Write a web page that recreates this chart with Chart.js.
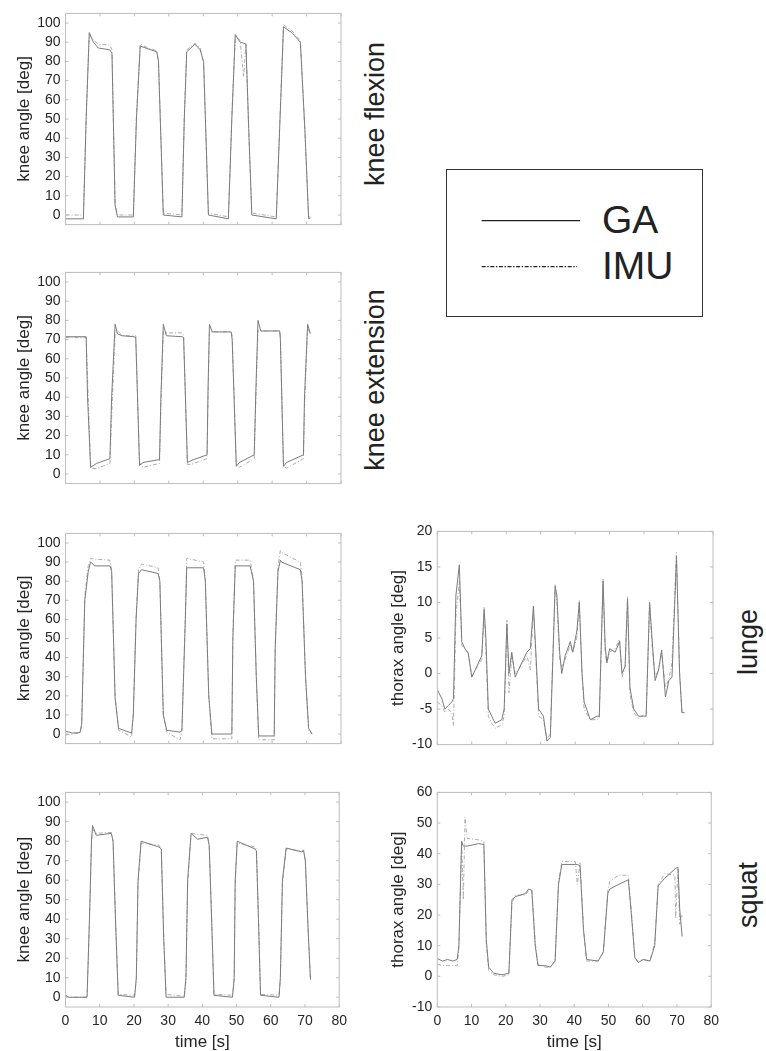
<!DOCTYPE html>
<html>
<head>
<meta charset="utf-8">
<script src="https://cdn.jsdelivr.net/npm/chart.js@4.4.0/dist/chart.umd.min.js"></script>
<style>
  html, body { margin: 0; padding: 0; background: #fff; }
  #fig { position: relative; width: 766px; height: 1051px; overflow: hidden; font-family: "Liberation Sans", Arial, sans-serif; color: #222; }
  #fig canvas { position: absolute; }
  .rowlab { position: absolute; font-size: 27px; line-height: 1; white-space: nowrap; transform: translate(-50%, -50%) rotate(-90deg); }
  #legend { position: absolute; left: 446px; top: 169px; width: 255px; height: 146px; border: 1.5px solid #333; }
  #legline { position: absolute; left: 470px; top: 210px; }
  .legtxt { position: absolute; left: 602px; font-size: 39px; line-height: 1; }
</style>
</head>
<body>
<div id="fig">
  <canvas id="flex" width="353" height="238" style="left:0px;top:0px"></canvas>
  <canvas id="ext" width="353" height="238" style="left:0px;top:259px"></canvas>
  <canvas id="lungeKnee" width="353" height="237" style="left:0px;top:520px"></canvas>
  <canvas id="squatKnee" width="353" height="275" style="left:0px;top:779px"></canvas>
  <canvas id="lungeThorax" width="345" height="240" style="left:380px;top:518px"></canvas>
  <canvas id="squatThorax" width="345" height="275" style="left:380px;top:779px"></canvas>

  <div class="rowlab" style="left:375px;top:114px">knee flexion</div>
  <div class="rowlab" style="left:375px;top:380px">knee extension</div>
  <div class="rowlab" style="left:748px;top:642px">lunge</div>
  <div class="rowlab" style="left:748px;top:895px">squat</div>

  <div id="legend"></div>
  <svg id="legline" width="120" height="70">
    <line x1="11.7" y1="10.7" x2="110" y2="10.7" stroke="#222" stroke-width="1.3"/>
    <line x1="11.7" y1="56.7" x2="107" y2="56.7" stroke="#222" stroke-width="1.3" stroke-dasharray="4 1.6 1.4 1.6"/>
  </svg>
  <div class="legtxt" style="top:200px">GA</div>
  <div class="legtxt" style="top:246px">IMU</div>
</div>

<script>
// tick values
const timeTicks = [0, 10, 20, 30, 40, 50, 60, 70, 80];
const kneeTicks = [0, 10, 20, 30, 40, 50, 60, 70, 80, 90, 100];
const lungeThoraxTicks = [-10, -5, 0, 5, 10, 15, 20];
const squatThoraxTicks = [-10, 0, 10, 20, 30, 40, 50, 60];

// knee flexion
const flexTime = [0, 5.2, 6.0, 6.9, 8.1, 9.5, 12.9, 13.5, 14.4, 15.1, 19.7, 20.6, 21.7, 24.0, 26.5, 27.0, 28.4, 33.8, 34.5, 35.2, 37.6, 39.1, 40.1, 41.5, 47.3, 48.3, 49.3, 50.7, 51.7, 52.4, 53.2, 54.1, 61.2, 62.3, 63.3, 65.7, 68.2, 69.5, 70.6, 71.1];
const flexGA = [-2, -2, 50, 95, 90, 87, 86, 84, 5, -1, -1, 50, 88, 86.5, 85, 80, 0, -1, 50, 85, 89, 86, 80, 0, -2, 50, 94, 90, 89.5, 89, 45, 0, -2, 50, 98, 95, 90, 45, -2, -1.5];
const flexIMU = [0, 0, 52, 94, 91, 89, 88.5, 86, 6, 0, 0, 52, 89, 87, 85.5, 80, 1, 0, 52, 86, 89.5, 87, 79, 1, -1, 52, 93, 91, 72, 89, 44, 1, -1, 52, 99, 96, 91, 44, -1, -1];

// knee extension
const extTime = [0, 6.0, 6.4, 7.3, 9.0, 12.9, 13.4, 14.4, 15.1, 16.5, 19.9, 20.4, 21.5, 22.5, 27.3, 27.7, 28.4, 29.3, 33.9, 34.3, 35.4, 36.5, 41.1, 41.4, 41.8, 42.6, 48.1, 48.4, 49.6, 50.5, 54.8, 55.3, 55.9, 56.7, 62.2, 62.4, 63.3, 64.2, 69.1, 69.4, 70.3, 71.1];
const extGA = [71.5, 71.5, 40, 3.5, 5.5, 8, 40, 78, 73, 72, 71.5, 71, 4.5, 6, 7.5, 40, 78, 72, 71.5, 71, 6, 7, 10, 45, 78, 74, 74, 70, 4, 6, 10, 45, 80, 74.5, 74.5, 70, 4, 6, 10, 40, 78, 73];
const extIMU = [71, 71, 50, 3, 2.8, 5.5, 30, 72, 74.5, 72, 72, 72, 6, 3.5, 5.5, 35, 74, 73.5, 73.5, 72, 5, 5, 8, 40, 74, 74, 74, 72, 5, 3.5, 8, 40, 75, 74.5, 74.5, 72, 4, 3, 8, 35, 76, 73];

// lunge, knee
const lungeKneeTime = [0, 2.0, 4.2, 4.7, 5.6, 6.6, 7.3, 8.5, 12.9, 13.4, 14.4, 15.4, 19.2, 19.7, 20.5, 21.2, 22.1, 26.9, 27.4, 28.4, 29.4, 33.3, 33.8, 34.8, 35.2, 40.1, 40.6, 41.6, 42.5, 48.3, 48.6, 49.3, 53.6, 54.6, 55.4, 56.1, 60.6, 60.9, 61.7, 62.4, 62.7, 68.2, 68.7, 69.7, 70.6, 71.6];
const lungeKneeGA = [1.5, 0.5, 0.8, 5, 70, 85, 90, 88, 88, 85, 19, 3, 0.5, 10, 60, 84, 86, 84, 80, 10, 2, 1, 2, 60, 87, 87, 80, 20, 0, 0, 50, 88, 88, 80, 30, -1, -1, 45, 85, 91, 90, 86, 80, 30, 3, 0];
const lungeKneeIMU = [-0.5, 0, 0.5, 5, 72, 88, 92, 91.5, 91, 86, 20, 2, -1.5, 12, 62, 86, 89, 87, 80, 10, 1, -3, 2, 62, 92, 90, 81, 20, -2.5, -2.5, 52, 91, 91, 81, 30, -3, -3, 47, 88, 96, 95, 90, 82, 30, 2, 0];

// squat, knee
const squatKneeTime = [0, 1.0, 6.3, 7.0, 7.6, 7.9, 9.0, 13.4, 13.9, 14.6, 15.4, 20.2, 20.7, 21.2, 22.1, 27.3, 28.0, 28.7, 29.4, 34.7, 35.2, 35.7, 36.7, 38.6, 41.5, 42.0, 42.7, 43.4, 48.8, 49.3, 49.6, 50.2, 55.4, 55.8, 56.4, 57.0, 62.4, 62.8, 63.4, 64.5, 69.1, 69.6, 70.1, 70.9, 71.6];
const squatKneeGA = [1, 0, 0, 40, 80, 88, 83, 84, 80, 40, 1, 0, 10, 60, 80, 77, 76, 30, 0, 0, 10, 60, 84, 81, 82, 78, 40, 1, 0, 10, 60, 80, 76, 75, 40, 1, 0, 10, 60, 76.5, 74.5, 75, 70, 35, 9];
const squatKneeIMU = [1, 0, 0, 38, 80, 86, 84, 84.5, 80, 42, 1.5, 1, 9, 58, 79, 78, 76, 32, 1.5, 0.5, 8, 58, 84, 83.5, 83, 78, 42, 1.5, 1, 8, 58, 79, 77, 76, 42, 1.5, 1, 9, 58, 76, 75, 75.5, 70, 35, 9];

// lunge, thorax
const lungeThoraxTime = [0, 1.3, 2.2, 3.2, 4.2, 4.7, 5.4, 6.4, 7.1, 8.0, 9.0, 10.0, 11.0, 12.9, 13.6, 14.1, 14.8, 15.8, 16.8, 18.7, 19.4, 20.2, 20.8, 21.6, 22.6, 23.5, 26.0, 27.0, 27.9, 28.7, 29.4, 30.8, 31.8, 32.8, 33.2, 34.2, 34.7, 35.5, 36.1, 37.1, 38.6, 39.3, 40.5, 41.2, 42.0, 42.6, 44.4, 46.3, 47.0, 48.1, 48.7, 49.2, 50.0, 51.6, 52.9, 53.6, 54.5, 55.2, 55.9, 57.0, 58.4, 59.9, 60.6, 61.6, 62.3, 63.2, 64.2, 65.1, 66.2, 67.2, 68.1, 69.4, 70.3, 71.0, 71.7];
const lungeThoraxGA = [-2.3, -3.5, -5, -4.5, -4, -3.5, 11, 15.3, 4.5, 3.5, 2.8, -0.5, 0.5, 2.5, 9, 5, -5, -6, -7, -6.5, -5, 7, 0, 3, -0.5, 0.5, 3, 3.5, 9.5, 2, -5, -6, -9.5, -9, -3, 12.3, 11, 3, 0, 2.5, 4.5, 3, 6, 10, 0, -4, -6.5, -6, -6, 13, 4, 1.5, 3.5, 3, 4.5, 0, 1, 10.5, -2, -5, -6, -6, -6, 10, 5, -1, 0.5, 3.3, -3.3, -1, -0.5, 16.5, 0, -5.5, -5.5];
const lungeThoraxIMU = [-4, -4.5, -5.5, -5, -5.5, -7.3, 8, 13, 4, 3.5, 3, -0.5, 0.5, 2, 9.3, 3, -6, -7, -7.7, -7.2, -6, 7.5, -2.7, 2.5, 0, 0.5, 2.5, 0.5, 9, 1, -6, -6.5, -9.2, -8.5, -2, 12.5, 10, 2, 1, 2, 4, 3, 5, 10.3, 0, -5, -6.5, -6.5, -6.3, 13.3, 3, 1.5, 3, 3.5, 4.8, -0.5, 1, 10.8, -3, -5.5, -6.3, -5.8, -6, 10, 4, -0.5, 0.5, 3, -2, -0.8, 1.5, 17, 0.5, -5.5, -5.5];

// squat, thorax
const squatThoraxTime = [0, 1.5, 3.0, 4.5, 5.8, 6.3, 7.1, 7.6, 8.1, 8.7, 12.1, 13.6, 14.3, 15.0, 16.5, 18.9, 20.9, 21.8, 22.8, 25.7, 26.7, 27.6, 28.6, 29.4, 31.5, 33.0, 34.4, 35.4, 36.4, 40.3, 40.9, 41.7, 42.7, 43.6, 47.0, 48.5, 49.8, 50.4, 53.0, 55.8, 56.7, 57.7, 58.7, 60.1, 62.1, 63.5, 64.5, 66.4, 69.4, 69.6, 70.3, 70.8, 71.5];
const squatThoraxGA = [5.8, 5, 5.5, 5, 5.5, 10, 44, 42.5, 42.5, 42.5, 43.3, 43, 12, 3, 1, 0.5, 1, 25, 26, 27, 28.5, 28, 10, 3.5, 3.5, 3, 5, 30, 36.5, 36.5, 36.5, 36, 15, 5.5, 5, 8, 27, 28.5, 30, 31.5, 20, 6, 4.5, 5.5, 5, 10, 29.5, 32, 35, 35.3, 35.5, 22, 13];
const squatThoraxIMU = [4, 3.5, 3.5, 3.5, 3.5, 9, 44, 25, 52, 45, 44.5, 44, 11, 2, 0.5, 0, 0.5, 24, 26.5, 26.5, 28, 28.5, 11, 4, 3, 3, 5, 31, 37.5, 37.5, 30, 37, 16, 5, 5, 8, 28, 31, 33, 33, 21, 6, 5, 5.5, 5, 11, 30, 33.5, 33, 19, 35, 17, 20];

Chart.defaults.font.family = '"Liberation Sans", Arial, sans-serif';

function pts(time, vals) {
  return time.map((t, i) => ({ x: t, y: vals[i] }));
}

// matlab-like box with inward tick marks
const frame = {
  id: "frame",
  afterDraw(chart) {
    const { ctx, chartArea: a, scales } = chart;
    ctx.save();
    ctx.strokeStyle = "#bdbdbd";
    ctx.lineWidth = 1;
    ctx.strokeRect(a.left, a.top, a.right - a.left, a.bottom - a.top);
    ctx.beginPath();
    scales.x.ticks.forEach(t => {
      const px = scales.x.getPixelForValue(t.value);
      ctx.moveTo(px, a.bottom); ctx.lineTo(px, a.bottom - 3);
      ctx.moveTo(px, a.top); ctx.lineTo(px, a.top + 3);
    });
    scales.y.ticks.forEach(t => {
      const py = scales.y.getPixelForValue(t.value);
      ctx.moveTo(a.left, py); ctx.lineTo(a.left + 3, py);
      ctx.moveTo(a.right, py); ctx.lineTo(a.right - 3, py);
    });
    ctx.stroke();
    ctx.restore();
  }
};

function panel(id, time, ga, imu, p) {
  new Chart(document.getElementById(id), {
    type: "line",
    data: {
      datasets: [
        { label: "GA", data: pts(time, ga), borderColor: "#7c7c7c", borderWidth: 1, pointRadius: 0, tension: 0 },
        { label: "IMU", data: pts(time, imu), borderColor: "#acacac", borderWidth: 1, borderDash: [4, 2, 1, 2], pointRadius: 0, tension: 0 }
      ]
    },
    options: {
      responsive: false,
      animation: false,
      events: [],
      layout: { padding: { top: 12, right: 12, bottom: p.time ? 0 : 10, left: 0 } },
      plugins: { legend: { display: false }, tooltip: { enabled: false } },
      scales: {
        x: {
          type: "linear", min: 0, max: 80,
          afterBuildTicks: s => { s.ticks = timeTicks.map(v => ({ value: v })); },
          afterFit: s => { s.height = p.time ? 47 : 0; },
          grid: { display: false, drawTicks: false },
          border: { display: false },
          ticks: { display: p.time, color: "#262626", font: { size: 14 }, padding: 6, autoSkip: false, maxRotation: 0 },
          title: { display: p.time, text: "time [s]", color: "#262626", font: { size: 17 }, padding: { top: 0, bottom: 1.8 } }
        },
        y: {
          min: p.min, max: p.max,
          afterBuildTicks: s => { s.ticks = p.ticks.map(v => ({ value: v })); },
          afterFit: s => { s.width = p.axisW; },
          grid: { display: false, drawTicks: false },
          border: { display: false },
          ticks: { color: "#262626", font: { size: 14 }, padding: 5, autoSkip: false },
          title: { display: true, text: p.title, color: "#262626", font: { size: 17 }, padding: { top: p.titlePad, bottom: 0 } }
        }
      }
    },
    plugins: [frame]
  });
}

const knee = { min: -5, max: 105, ticks: kneeTicks, axisW: 65.5, title: "knee angle [deg]", titlePad: 14.3 };

panel("flex", flexTime, flexGA, flexIMU, { ...knee, time: false });
panel("ext", extTime, extGA, extIMU, { ...knee, time: false });
panel("lungeKnee", lungeKneeTime, lungeKneeGA, lungeKneeIMU, { ...knee, time: false });
panel("squatKnee", squatKneeTime, squatKneeGA, squatKneeIMU, { ...knee, time: true });
panel("lungeThorax", lungeThoraxTime, lungeThoraxGA, lungeThoraxIMU,
  { min: -10, max: 20, ticks: lungeThoraxTicks, axisW: 57.3, title: "thorax angle [deg]", titlePad: 8.3, time: false });
panel("squatThorax", squatThoraxTime, squatThoraxGA, squatThoraxIMU,
  { min: -10, max: 60, ticks: squatThoraxTicks, axisW: 57.3, title: "thorax angle [deg]", titlePad: 8.3, time: true });
</script>
</body>
</html>
